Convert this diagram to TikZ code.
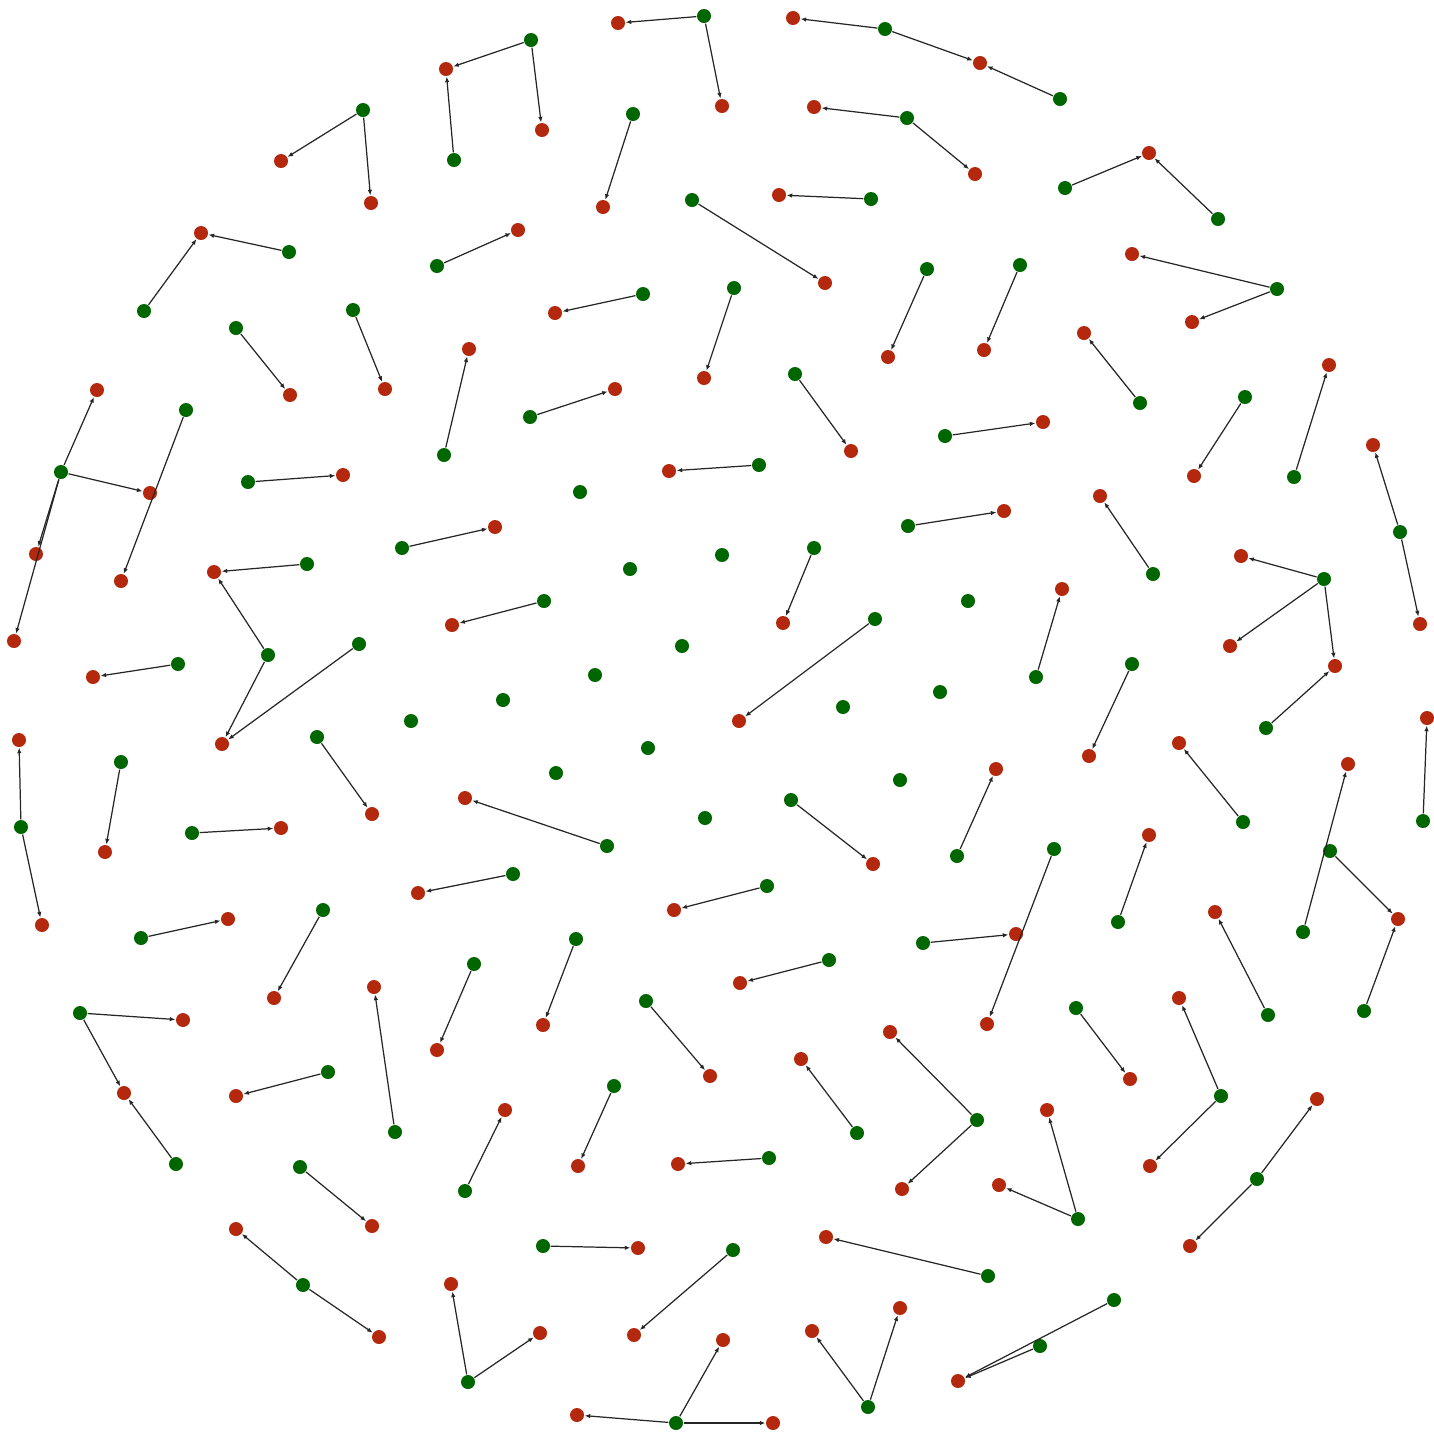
\documentclass[tikz,border=0pt]{standalone}
\usepackage{tikz}
\usetikzlibrary{arrows.meta}
\usepackage{xcolor}
\definecolor{leafgreen}{RGB}{0,102,0}
\definecolor{rustred}{RGB}{180,40,14}

\begin{document}
\begin{tikzpicture}[
  x=.01cm,y=-.01cm,>={Latex[length=.55mm,width=.45mm]},
  flow/.style={->,line width=.35pt,draw=black!85},
  gdot/.style={circle,fill=leafgreen,minimum size=1.4mm,inner sep=0pt},
  rdot/.style={circle,fill=rustred,minimum size=1.4mm,inner sep=0pt}]
\useasboundingbox (0,0) rectangle (1434,1433);
% top rim
\node[gdot] (g1) at (704,16) {}; \node[rdot] (r1) at (618,23) {}; \node[rdot] (r2) at (722,106) {};
\node[gdot] (g2) at (885,29) {}; \node[gdot] (g3) at (1060,99) {}; \node[rdot] (r3) at (793,18) {}; \node[rdot] (r4) at (980,63) {};
\node[gdot] (g4) at (531,40) {}; \node[gdot] (g5) at (454,160) {}; \node[rdot] (r5) at (446,69) {}; \node[rdot] (r6) at (542,130) {};
\node[gdot] (g6) at (363,110) {}; \node[rdot] (r7) at (281,161) {}; \node[rdot] (r8) at (371,203) {};
\node[gdot] (g7) at (633,114) {}; \node[rdot] (r9) at (603,207) {};
\node[gdot] (g8) at (907,118) {}; \node[rdot] (r10) at (814,107) {}; \node[rdot] (r11) at (975,174) {};
\node[gdot] (g9) at (1065,188) {}; \node[gdot] (g10) at (1218,219) {}; \node[rdot] (r12) at (1149,153) {};
\node[gdot] (g11) at (871,199) {}; \node[rdot] (r13) at (779,195) {};
\node[gdot] (g12) at (692,200) {}; \node[rdot] (r14) at (825,283) {};
\node[gdot] (g13) at (289,252) {}; \node[gdot] (g14) at (144,311) {}; \node[rdot] (r15) at (201,233) {};
\node[gdot] (g15) at (437,266) {}; \node[rdot] (r16) at (518,230) {};
\node[gdot] (g16) at (1277,289) {}; \node[rdot] (r17) at (1132,254) {}; \node[rdot] (r18) at (1192,322) {};
\node[gdot] (g17) at (643,294) {}; \node[rdot] (r19) at (555,313) {};
\node[gdot] (g18) at (734,288) {}; \node[rdot] (r20) at (704,378) {};
\node[gdot] (g19) at (927,269) {}; \node[rdot] (r21) at (888,357) {};
\node[gdot] (g20) at (1020,265) {}; \node[rdot] (r22) at (984,350) {};
\node[gdot] (g21) at (236,328) {}; \node[rdot] (r23) at (290,395) {};
\node[gdot] (g22) at (353,310) {}; \node[rdot] (r24) at (385,389) {};
\node[gdot] (g23) at (444,455) {}; \node[rdot] (r25) at (469,349) {};
\node[gdot] (g24) at (1140,403) {}; \node[rdot] (r26) at (1084,333) {};
\node[gdot] (g25) at (1245,397) {}; \node[rdot] (r27) at (1194,476) {};
\node[gdot] (g26) at (1294,477) {}; \node[rdot] (r28) at (1329,365) {};
\node[gdot] (g27) at (530,417) {}; \node[rdot] (r29) at (615,389) {};
\node[gdot] (g28) at (795,374) {}; \node[rdot] (r30) at (851,451) {};
\node[gdot] (g29) at (945,436) {}; \node[rdot] (r31) at (1043,422) {};
% middle band
\node[gdot] (g30) at (61,472) {}; \node[gdot] (g31) at (186,410) {};
\node[rdot] (r32) at (97,390) {}; \node[rdot] (r33) at (150,493) {}; \node[rdot] (r34) at (36,554) {};
\node[rdot] (r35) at (14,641) {}; \node[rdot] (r36) at (121,581) {};
\node[gdot] (g32) at (248,482) {}; \node[rdot] (r37) at (343,475) {};
\node[gdot] (g33) at (580,492) {};
\node[gdot] (g34) at (759,465) {}; \node[rdot] (r38) at (669,471) {};
\node[gdot] (g35) at (402,548) {}; \node[rdot] (r39) at (495,527) {};
\node[gdot] (g36) at (908,526) {}; \node[rdot] (r40) at (1004,511) {};
\node[gdot] (g37) at (1153,574) {}; \node[rdot] (r41) at (1100,496) {};
\node[gdot] (g38) at (307,564) {}; \node[gdot] (g39) at (268,655) {}; \node[gdot] (g40) at (359,644) {};
\node[rdot] (r42) at (214,572) {}; \node[rdot] (r43) at (222,744) {};
\node[gdot] (g41) at (630,569) {}; \node[gdot] (g42) at (722,555) {};
\node[gdot] (g43) at (814,548) {}; \node[rdot] (r44) at (783,623) {};
\node[gdot] (g44) at (544,601) {}; \node[rdot] (r45) at (452,625) {};
\node[gdot] (g45) at (1324,579) {}; \node[gdot] (g46) at (1266,728) {};
\node[rdot] (r46) at (1241,556) {}; \node[rdot] (r47) at (1230,646) {}; \node[rdot] (r48) at (1335,666) {};
\node[gdot] (g47) at (1400,532) {}; \node[rdot] (r49) at (1373,445) {}; \node[rdot] (r50) at (1420,624) {};
\node[gdot] (g48) at (968,601) {};
\node[gdot] (g49) at (1036,677) {}; \node[rdot] (r51) at (1062,589) {};
\node[gdot] (g50) at (178,664) {}; \node[rdot] (r52) at (93,677) {};
\node[gdot] (g51) at (875,619) {}; \node[rdot] (r53) at (739,721) {};
\node[gdot] (g52) at (682,646) {}; \node[gdot] (g53) at (595,675) {}; \node[gdot] (g54) at (503,700) {};
\node[gdot] (g55) at (411,721) {}; \node[gdot] (g56) at (843,707) {}; \node[gdot] (g57) at (940,692) {};
\node[gdot] (g58) at (1132,664) {}; \node[rdot] (r54) at (1089,756) {};
\node[gdot] (g59) at (1423,821) {}; \node[rdot] (r55) at (1427,718) {};
\node[gdot] (g60) at (21,827) {}; \node[rdot] (r56) at (19,740) {}; \node[rdot] (r57) at (42,925) {};
\node[gdot] (g61) at (121,762) {}; \node[rdot] (r58) at (105,852) {};
\node[gdot] (g62) at (317,737) {}; \node[rdot] (r59) at (372,814) {};
\node[gdot] (g63) at (192,833) {}; \node[rdot] (r60) at (281,828) {};
\node[gdot] (g64) at (607,846) {}; \node[rdot] (r61) at (465,798) {};
\node[gdot] (g65) at (556,773) {}; \node[gdot] (g66) at (648,748) {}; \node[gdot] (g67) at (705,818) {}; \node[gdot] (g68) at (900,780) {};
\node[gdot] (g69) at (791,800) {}; \node[rdot] (r62) at (873,864) {};
\node[gdot] (g70) at (957,856) {}; \node[rdot] (r63) at (996,769) {};
\node[gdot] (g71) at (1243,822) {}; \node[rdot] (r64) at (1179,743) {};
\node[gdot] (g72) at (1303,932) {}; \node[gdot] (g73) at (1330,851) {}; \node[gdot] (g74) at (1364,1011) {};
\node[rdot] (r65) at (1348,764) {}; \node[rdot] (r66) at (1398,919) {};
\node[gdot] (g75) at (513,874) {}; \node[rdot] (r67) at (418,893) {};
\node[gdot] (g76) at (767,886) {}; \node[rdot] (r68) at (674,910) {};
\node[gdot] (g77) at (1118,922) {}; \node[rdot] (r69) at (1149,835) {};
\node[gdot] (g78) at (1268,1015) {}; \node[rdot] (r70) at (1215,912) {};
\node[gdot] (g79) at (1054,849) {}; \node[gdot] (g80) at (923,943) {};
\node[rdot] (r71) at (1016,934) {}; \node[rdot] (r72) at (987,1024) {};
% lower part
\node[gdot] (g81) at (141,938) {}; \node[rdot] (r73) at (228,919) {};
\node[gdot] (g82) at (323,910) {}; \node[rdot] (r74) at (274,998) {};
\node[gdot] (g83) at (576,939) {}; \node[rdot] (r75) at (543,1025) {};
\node[gdot] (g84) at (474,964) {}; \node[rdot] (r76) at (437,1050) {};
\node[gdot] (g85) at (829,960) {}; \node[rdot] (r77) at (740,983) {};
\node[gdot] (g86) at (80,1013) {}; \node[gdot] (g87) at (176,1164) {};
\node[rdot] (r78) at (183,1020) {}; \node[rdot] (r79) at (124,1093) {};
\node[gdot] (g88) at (395,1132) {}; \node[rdot] (r80) at (374,987) {};
\node[gdot] (g89) at (328,1072) {}; \node[rdot] (r81) at (236,1096) {};
\node[gdot] (g90) at (646,1001) {}; \node[rdot] (r82) at (710,1076) {};
\node[gdot] (g91) at (1076,1008) {}; \node[rdot] (r83) at (1130,1079) {};
\node[gdot] (g92) at (1221,1096) {}; \node[rdot] (r84) at (1179,998) {}; \node[rdot] (r85) at (1150,1166) {};
\node[gdot] (g93) at (857,1133) {}; \node[rdot] (r86) at (801,1059) {};
\node[gdot] (g94) at (977,1120) {}; \node[rdot] (r87) at (890,1032) {}; \node[rdot] (r88) at (902,1189) {};
\node[gdot] (g95) at (1078,1219) {}; \node[rdot] (r89) at (1047,1110) {}; \node[rdot] (r90) at (999,1185) {};
\node[gdot] (g96) at (1257,1179) {}; \node[rdot] (r91) at (1317,1099) {}; \node[rdot] (r92) at (1190,1246) {};
\node[gdot] (g97) at (614,1086) {}; \node[rdot] (r93) at (578,1166) {};
\node[gdot] (g98) at (465,1191) {}; \node[rdot] (r94) at (505,1110) {};
\node[gdot] (g99) at (769,1158) {}; \node[rdot] (r95) at (678,1164) {};
\node[gdot] (g100) at (300,1167) {}; \node[rdot] (r96) at (372,1226) {};
\node[gdot] (g101) at (303,1285) {}; \node[rdot] (r97) at (236,1229) {}; \node[rdot] (r98) at (379,1337) {};
\node[gdot] (g102) at (543,1246) {}; \node[rdot] (r99) at (638,1248) {};
\node[gdot] (g103) at (733,1250) {}; \node[rdot] (r100) at (634,1335) {};
\node[gdot] (g104) at (988,1276) {}; \node[rdot] (r101) at (826,1237) {};
\node[gdot] (g105) at (468,1382) {}; \node[rdot] (r102) at (451,1284) {}; \node[rdot] (r103) at (540,1333) {};
\node[gdot] (g106) at (676,1423) {}; \node[rdot] (r104) at (577,1415) {}; \node[rdot] (r105) at (773,1423) {}; \node[rdot] (r106) at (723,1340) {};
\node[gdot] (g107) at (868,1407) {}; \node[rdot] (r107) at (812,1331) {}; \node[rdot] (r108) at (900,1308) {};
\node[gdot] (g108) at (1114,1300) {}; \node[gdot] (g109) at (1040,1346) {}; \node[rdot] (r109) at (958,1381) {};
% links
\draw[flow] (g1)--(r1); \draw[flow] (g1)--(r2);
\draw[flow] (g2)--(r3); \draw[flow] (g2)--(r4); \draw[flow] (g3)--(r4);
\draw[flow] (g4)--(r5); \draw[flow] (g4)--(r6); \draw[flow] (g5)--(r5);
\draw[flow] (g6)--(r7); \draw[flow] (g6)--(r8);
\draw[flow] (g7)--(r9);
\draw[flow] (g8)--(r10); \draw[flow] (g8)--(r11);
\draw[flow] (g9)--(r12); \draw[flow] (g10)--(r12);
\draw[flow] (g11)--(r13);
\draw[flow] (g12)--(r14);
\draw[flow] (g13)--(r15); \draw[flow] (g14)--(r15);
\draw[flow] (g15)--(r16);
\draw[flow] (g16)--(r17); \draw[flow] (g16)--(r18);
\draw[flow] (g17)--(r19);
\draw[flow] (g18)--(r20);
\draw[flow] (g19)--(r21);
\draw[flow] (g20)--(r22);
\draw[flow] (g21)--(r23);
\draw[flow] (g22)--(r24);
\draw[flow] (g23)--(r25);
\draw[flow] (g24)--(r26);
\draw[flow] (g25)--(r27);
\draw[flow] (g26)--(r28);
\draw[flow] (g27)--(r29);
\draw[flow] (g28)--(r30);
\draw[flow] (g29)--(r31);
\draw[flow] (g30)--(r32); \draw[flow] (g30)--(r33); \draw[flow] (g30)--(r34); \draw[flow] (g30)--(r35);
\draw[flow] (g31)--(r36);
\draw[flow] (g32)--(r37);
\draw[flow] (g34)--(r38);
\draw[flow] (g35)--(r39);
\draw[flow] (g36)--(r40);
\draw[flow] (g37)--(r41);
\draw[flow] (g38)--(r42); \draw[flow] (g39)--(r42); \draw[flow] (g39)--(r43); \draw[flow] (g40)--(r43);
\draw[flow] (g43)--(r44);
\draw[flow] (g44)--(r45);
\draw[flow] (g45)--(r46); \draw[flow] (g45)--(r47); \draw[flow] (g45)--(r48); \draw[flow] (g46)--(r48);
\draw[flow] (g47)--(r49); \draw[flow] (g47)--(r50);
\draw[flow] (g49)--(r51);
\draw[flow] (g50)--(r52);
\draw[flow] (g51)--(r53);
\draw[flow] (g58)--(r54);
\draw[flow] (g59)--(r55);
\draw[flow] (g60)--(r56); \draw[flow] (g60)--(r57);
\draw[flow] (g61)--(r58);
\draw[flow] (g62)--(r59);
\draw[flow] (g63)--(r60);
\draw[flow] (g64)--(r61);
\draw[flow] (g69)--(r62);
\draw[flow] (g70)--(r63);
\draw[flow] (g71)--(r64);
\draw[flow] (g72)--(r65); \draw[flow] (g73)--(r66); \draw[flow] (g74)--(r66);
\draw[flow] (g75)--(r67);
\draw[flow] (g76)--(r68);
\draw[flow] (g77)--(r69);
\draw[flow] (g78)--(r70);
\draw[flow] (g79)--(r72); \draw[flow] (g80)--(r71);
\draw[flow] (g81)--(r73);
\draw[flow] (g82)--(r74);
\draw[flow] (g83)--(r75);
\draw[flow] (g84)--(r76);
\draw[flow] (g85)--(r77);
\draw[flow] (g86)--(r78); \draw[flow] (g86)--(r79); \draw[flow] (g87)--(r79);
\draw[flow] (g88)--(r80);
\draw[flow] (g89)--(r81);
\draw[flow] (g90)--(r82);
\draw[flow] (g91)--(r83);
\draw[flow] (g92)--(r84); \draw[flow] (g92)--(r85);
\draw[flow] (g93)--(r86);
\draw[flow] (g94)--(r87); \draw[flow] (g94)--(r88);
\draw[flow] (g95)--(r89); \draw[flow] (g95)--(r90);
\draw[flow] (g96)--(r91); \draw[flow] (g96)--(r92);
\draw[flow] (g97)--(r93);
\draw[flow] (g98)--(r94);
\draw[flow] (g99)--(r95);
\draw[flow] (g100)--(r96);
\draw[flow] (g101)--(r97); \draw[flow] (g101)--(r98);
\draw[flow] (g102)--(r99);
\draw[flow] (g103)--(r100);
\draw[flow] (g104)--(r101);
\draw[flow] (g105)--(r102); \draw[flow] (g105)--(r103);
\draw[flow] (g106)--(r104); \draw[flow] (g106)--(r105); \draw[flow] (g106)--(r106);
\draw[flow] (g107)--(r107); \draw[flow] (g107)--(r108);
\draw[flow] (g108)--(r109); \draw[flow] (g109)--(r109);
\end{tikzpicture}
\end{document}
